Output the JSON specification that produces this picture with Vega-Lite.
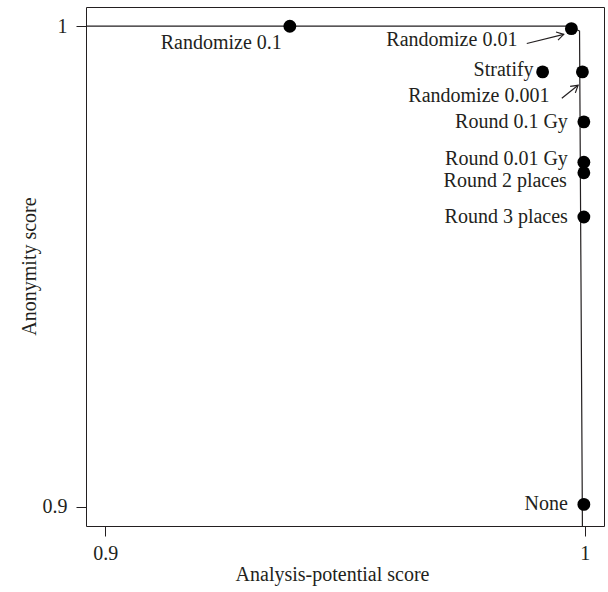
{
  "$schema": "https://vega.github.io/schema/vega-lite/v6.json",
  "width": 518,
  "height": 519,
  "autosize": {"type": "none"},
  "padding": {"left": 86, "top": 7, "right": 4, "bottom": 66},
  "background": "white",
  "config": {
    "view": {"stroke": "#231F20", "strokeWidth": 1},
    "font": "Liberation Serif",
    "axis": {
      "grid": false,
      "domain": false,
      "tickColor": "#231F20",
      "tickSize": 10,
      "tickWidth": 1,
      "labelFont": "Liberation Serif",
      "labelFontSize": 20,
      "labelColor": "#231F20",
      "titleFont": "Liberation Serif",
      "titleFontSize": 20,
      "titleFontWeight": "normal",
      "titleColor": "#231F20"
    }
  },
  "datasets": {
    "methods": [
      {"method": "Randomize 0.1", "analysis": 0.9385, "anonymity": 1.0},
      {"method": "Randomize 0.01", "analysis": 0.9972, "anonymity": 0.9995},
      {"method": "Stratify", "analysis": 0.9912, "anonymity": 0.9905},
      {"method": "Randomize 0.001", "analysis": 0.9995, "anonymity": 0.9905},
      {"method": "Round 0.1 Gy", "analysis": 0.9998, "anonymity": 0.9801},
      {"method": "Round 0.01 Gy", "analysis": 0.9998, "anonymity": 0.9717},
      {"method": "Round 2 places", "analysis": 0.9998, "anonymity": 0.9695},
      {"method": "Round 3 places", "analysis": 0.9998, "anonymity": 0.9603},
      {"method": "None", "analysis": 0.9998, "anonymity": 0.9005}
    ],
    "frontier": [
      {"order": 1, "analysis": 0.896, "anonymity": 1.0},
      {"order": 2, "analysis": 0.9969, "anonymity": 1.0},
      {"order": 3, "analysis": 0.9989, "anonymity": 0.999},
      {"order": 4, "analysis": 0.9995, "anonymity": 0.896}
    ],
    "arrows": [
      {"id": 1, "analysis": 0.9879, "anonymity": 0.9964, "analysis2": 0.9956, "anonymity2": 0.9983},
      {"id": 2, "analysis": 0.9952, "anonymity": 0.985, "analysis2": 0.9986, "anonymity2": 0.9877}
    ],
    "heads": [
      {"id": 1, "analysis": 0.9956, "anonymity": 0.9983},
      {"id": 2, "analysis": 0.9986, "anonymity": 0.9877}
    ]
  },
  "encoding": {
    "x": {
      "field": "analysis",
      "type": "quantitative",
      "scale": {"domain": [0.896, 1.004], "nice": false, "zero": false},
      "axis": {
        "values": [0.9, 1],
        "format": ".1~f",
        "labelPadding": 7,
        "title": "Analysis-potential score",
        "titleX": 246,
        "titleY": 54,
        "titleAnchor": null,
        "titleAlign": "center",
        "titleBaseline": "alphabetic"
      }
    },
    "y": {
      "field": "anonymity",
      "type": "quantitative",
      "scale": {"domain": [0.896, 1.004], "nice": false, "zero": false},
      "axis": {
        "values": [0.9, 1],
        "format": ".1~f",
        "labelPadding": 9,
        "title": "Anonymity score",
        "titleX": -51,
        "titleY": 259,
        "titleAngle": -90,
        "titleAlign": "center",
        "titleBaseline": "alphabetic"
      }
    }
  },
  "layer": [
    {
      "data": {"name": "frontier"},
      "mark": {"type": "line", "color": "#231F20", "strokeWidth": 1.2},
      "encoding": {"order": {"field": "order", "type": "quantitative"}}
    },
    {
      "data": {"name": "arrows"},
      "mark": {"type": "rule", "color": "#231F20", "strokeWidth": 1.2},
      "encoding": {
        "x2": {"field": "analysis2"},
        "y2": {"field": "anonymity2"}
      }
    },
    {
      "data": {"name": "heads"},
      "transform": [{"filter": "datum.id == 1"}],
      "mark": {"type": "point", "shape": "M-0.6,1L0,0L0.6,1", "filled": false, "stroke": "#231F20", "strokeWidth": 1.2, "size": 190, "angle": 76, "opacity": 1}
    },
    {
      "data": {"name": "heads"},
      "transform": [{"filter": "datum.id == 2"}],
      "mark": {"type": "point", "shape": "M-0.6,1L0,0L0.6,1", "filled": false, "stroke": "#231F20", "strokeWidth": 1.2, "size": 190, "angle": 51, "opacity": 1}
    },
    {
      "data": {"name": "methods"},
      "mark": {"type": "circle", "color": "#000000", "size": 165, "opacity": 1}
    },
    {
      "data": {"name": "methods"},
      "transform": [{"filter": {"field": "method", "oneOf": ["Round 0.1 Gy", "Round 3 places", "None"]}}],
      "mark": {"type": "text", "align": "right", "baseline": "middle", "dx": -16, "dy": 0, "fontSize": 20, "font": "Liberation Serif", "color": "#231F20"},
      "encoding": {"text": {"field": "method"}}
    },
    {
      "data": {"name": "methods"},
      "transform": [{"filter": {"field": "method", "equal": "Round 0.01 Gy"}}],
      "mark": {"type": "text", "align": "right", "baseline": "middle", "dx": -16, "dy": -3, "fontSize": 20, "font": "Liberation Serif", "color": "#231F20"},
      "encoding": {"text": {"field": "method"}}
    },
    {
      "data": {"name": "methods"},
      "transform": [{"filter": {"field": "method", "equal": "Round 2 places"}}],
      "mark": {"type": "text", "align": "right", "baseline": "middle", "dx": -17, "dy": 8, "fontSize": 20, "font": "Liberation Serif", "color": "#231F20"},
      "encoding": {"text": {"field": "method"}}
    },
    {
      "data": {"name": "methods"},
      "transform": [{"filter": {"field": "method", "equal": "Stratify"}}],
      "mark": {"type": "text", "align": "right", "baseline": "middle", "dx": -9, "dy": -2, "fontSize": 20, "font": "Liberation Serif", "color": "#231F20"},
      "encoding": {"text": {"field": "method"}}
    },
    {
      "data": {"name": "methods"},
      "transform": [{"filter": {"field": "method", "equal": "Randomize 0.1"}}],
      "mark": {"type": "text", "align": "right", "baseline": "middle", "dx": -8, "dy": 17, "fontSize": 20, "font": "Liberation Serif", "color": "#231F20"},
      "encoding": {"text": {"field": "method"}}
    },
    {
      "data": {"name": "methods"},
      "transform": [{"filter": {"field": "method", "equal": "Randomize 0.01"}}],
      "mark": {"type": "text", "align": "right", "baseline": "middle", "dx": -54, "dy": 11, "fontSize": 20, "font": "Liberation Serif", "color": "#231F20"},
      "encoding": {"text": {"field": "method"}}
    },
    {
      "data": {"name": "methods"},
      "transform": [{"filter": {"field": "method", "equal": "Randomize 0.001"}}],
      "mark": {"type": "text", "align": "right", "baseline": "middle", "dx": -33, "dy": 24, "fontSize": 20, "font": "Liberation Serif", "color": "#231F20"},
      "encoding": {"text": {"field": "method"}}
    }
  ]
}
